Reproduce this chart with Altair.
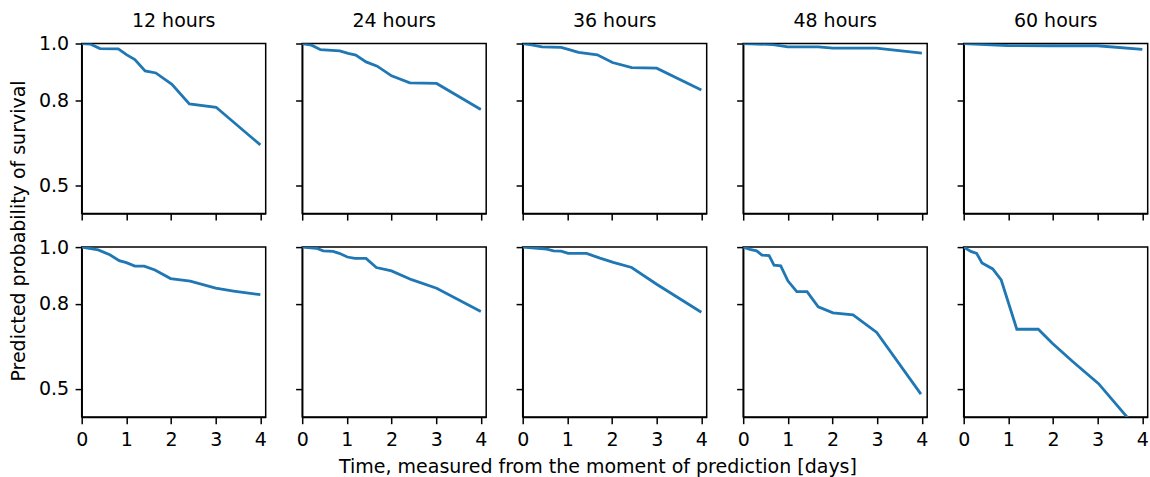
import altair as alt
import pandas as pd

# ---- data ----
HORIZONS = ["12 hours", "24 hours", "36 hours", "48 hours", "60 hours"]
X_TICKS = [0, 1, 2, 3, 4]
Y_TICKS = [0.5, 0.8, 1.0]

# upper row
U12_T = [0, 0.19, 0.41, 0.82, 1.01, 1.19, 1.42, 1.66, 2.02, 2.41, 3.01, 4.0]
U12_P = [1.0, 0.998, 0.982, 0.981, 0.96, 0.943, 0.903, 0.896, 0.856, 0.787, 0.775, 0.642]
U24_T = [0, 0.21, 0.41, 0.84, 1.03, 1.2, 1.43, 1.68, 2.0, 2.41, 3.01, 4.0]
U24_P = [1.0, 0.994, 0.978, 0.974, 0.965, 0.959, 0.935, 0.92, 0.886, 0.861, 0.859, 0.767]
U36_T = [0, 0.2, 0.43, 0.86, 1.02, 1.25, 1.67, 2.01, 2.44, 3.0, 4.0]
U36_P = [1.0, 0.995, 0.988, 0.986, 0.979, 0.969, 0.96, 0.933, 0.915, 0.913, 0.836]
U48_T = [0, 0.67, 1.0, 1.68, 2.01, 2.98, 4.0]
U48_P = [1.0, 0.996, 0.988, 0.988, 0.984, 0.984, 0.966]
U60_T = [0, 0.98, 1.99, 2.99, 4.0]
U60_P = [1.0, 0.993, 0.992, 0.992, 0.979]

# lower row
L12_T = [0, 0.37, 0.63, 0.84, 1.0, 1.19, 1.4, 1.64, 1.99, 2.43, 3.0, 3.4, 4.0]
L12_P = [1.0, 0.99, 0.973, 0.952, 0.945, 0.933, 0.933, 0.919, 0.889, 0.88, 0.855, 0.845, 0.832]
L24_T = [0, 0.32, 0.47, 0.69, 0.83, 1.01, 1.18, 1.43, 1.66, 2.0, 2.45, 3.01, 4.0]
L24_P = [1.0, 0.996, 0.987, 0.985, 0.978, 0.965, 0.96, 0.96, 0.928, 0.916, 0.885, 0.855, 0.773]
L36_T = [0, 0.54, 0.69, 0.86, 1.02, 1.43, 1.73, 2.03, 2.44, 3.0, 4.0]
L36_P = [1.0, 0.993, 0.987, 0.986, 0.978, 0.978, 0.961, 0.946, 0.928, 0.869, 0.77]
L48_T = [0, 0.15, 0.3, 0.42, 0.58, 0.69, 0.84, 1.0, 1.2, 1.43, 1.68, 2.01, 2.46, 2.99, 3.98]
L48_P = [1.0, 0.992, 0.987, 0.972, 0.97, 0.936, 0.934, 0.881, 0.843, 0.843, 0.789, 0.768, 0.761, 0.699, 0.481]
L60_T = [0, 0.16, 0.29, 0.41, 0.65, 0.84, 1.19, 1.67, 1.99, 2.44, 3.02, 4.0]
L60_P = [1.0, 0.985, 0.978, 0.944, 0.923, 0.884, 0.71, 0.71, 0.66, 0.596, 0.518, 0.337]

UPPER = [(U12_T, U12_P), (U24_T, U24_P), (U36_T, U36_P), (U48_T, U48_P), (U60_T, U60_P)]
LOWER = [(L12_T, L12_P), (L24_T, L24_P), (L36_T, L36_P), (L48_T, L48_P), (L60_T, L60_P)]

X_TITLE = "Time, measured from the moment of prediction [days]"
Y_TITLE = "Predicted probability of survival"

# ---- style ----
FONT = "DejaVu Sans"
FS = 19
W, H = 184, 170
LINE_COLOR = "#1f77b4"


def panel(ts, ps, col, row):
    df = pd.DataFrame({"t": ts, "p": ps})
    x_kw = dict(values=X_TICKS, labels=(row == 1), format="d", grid=False, title=None,
                labelFlush=False)
    # inner panels keep (invisible) y labels so every column has the same bounds
    y_kw = dict(values=Y_TICKS, labels=True, labelOpacity=(1 if col == 0 else 0),
                format=".1f", grid=False, title=None)
    if row == 1 and col == 2:
        x_kw.update(title=X_TITLE, titleX=597.5 - 522.7, titleY=55.6,
                    titleBaseline="alphabetic", titleAlign="center")
    if row == 0 and col == 0:
        y_kw.update(title=Y_TITLE, titleX=-56.7, titleY=187,
                    titleBaseline="alphabetic", titleAngle=270, titleAlign="center")
    ch = alt.Chart(df).mark_line(clip=True, color=LINE_COLOR, strokeWidth=2.8).encode(
        x=alt.X("t:Q", scale=alt.Scale(domain=[0, 4.12], nice=False, zero=False),
                axis=alt.Axis(**x_kw)),
        y=alt.Y("p:Q", scale=alt.Scale(domain=[0.4, 1.0], nice=False, zero=False),
                axis=alt.Axis(**y_kw)),
    )
    props = dict(width=W, height=H)
    if row == 0:
        props["title"] = alt.TitleParams(
            text=HORIZONS[col], font=FONT, fontSize=FS, fontWeight="normal",
            color="black", anchor="middle", baseline="alphabetic", offset=-11.5,
            frame="group")
    return ch.properties(**props)


panels = [panel(t, p, i, 0) for i, (t, p) in enumerate(UPPER)] + \
         [panel(t, p, i, 1) for i, (t, p) in enumerate(LOWER)]

chart = alt.concat(
    *panels, columns=5, bounds="flush",
    spacing=alt.RowColnumber(row=33.6, column=36.5),
).properties(
    padding={"left": 8.7, "top": 10.5, "right": 0, "bottom": 5},
    background="white",
).configure_view(
    stroke="black", strokeWidth=1.5
).configure_axis(
    labelFont=FONT, labelFontSize=FS, labelColor="black",
    titleFont=FONT, titleFontSize=FS, titleColor="black", titleFontWeight="normal",
    tickColor="black", tickWidth=1.5, tickSize=6.6, labelPadding=6.5,
    domainColor="black", domainWidth=1.5,
)

chart.save("out.html", embed_options={"renderer": "svg", "actions": False})
